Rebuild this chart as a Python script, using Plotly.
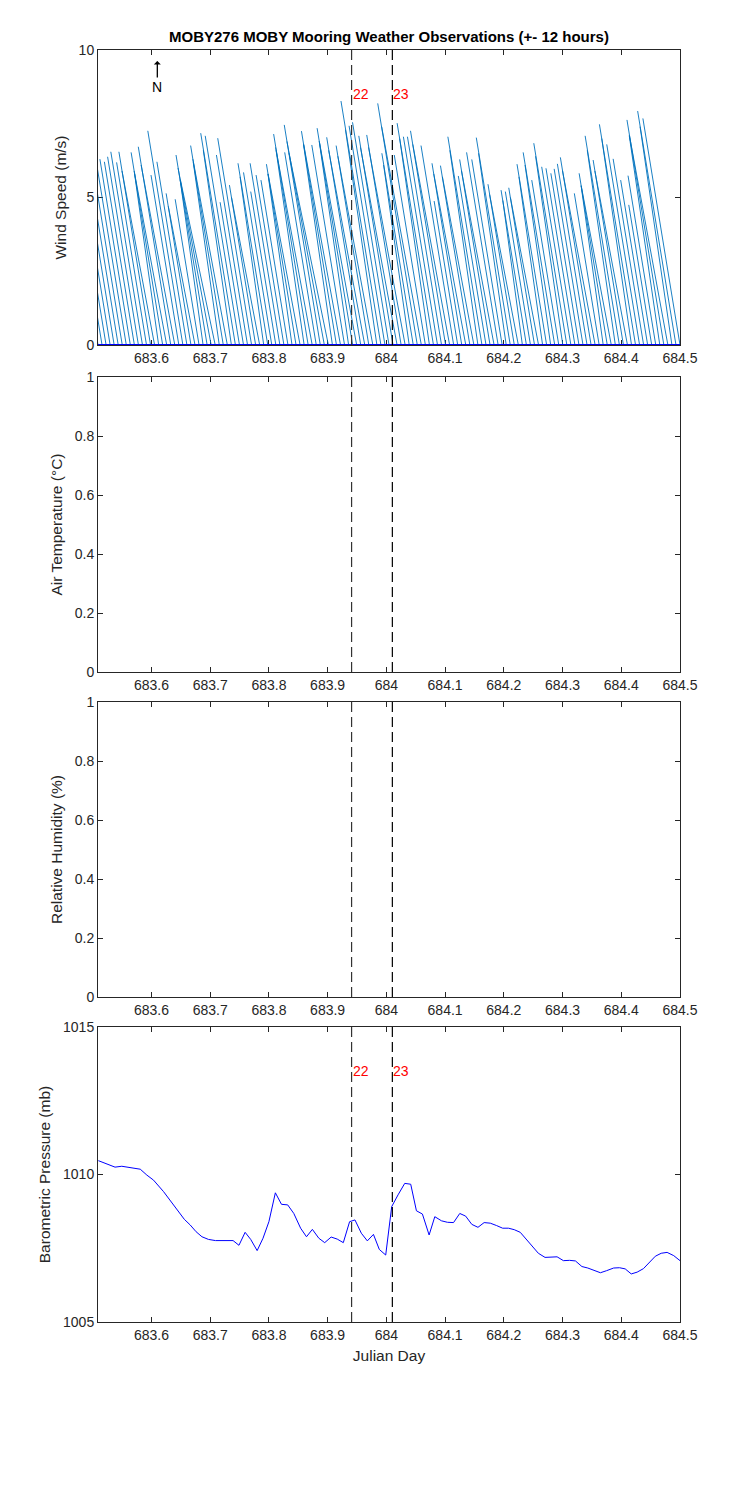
import numpy as np
import plotly.graph_objects as go

# ---------------- data ----------------
x_range = [683.509, 684.5]
x_tickvals = [683.6, 683.7, 683.8, 683.9, 684.0, 684.1, 684.2, 684.3, 684.4, 684.5]
x_ticktext = ["683.6", "683.7", "683.8", "683.9", "684", "684.1", "684.2", "684.3", "684.4", "684.5"]

# wind sticks: one every ~10 minutes, north component (stick height, m/s)
wind_t_first, wind_t_last = 683.509, 684.5
wind_v = [
    6.2, 6.0, 6.3, 6.1, 5.9, 6.4, 6.2, 6.0, 6.3, 6.21,
    6.38, 6.55, 6.19, 6.55, 5.9, 5.8, 6.53, 5.9, 6.72, 6.1,
    5.76, 7.26, 6.21, 5.14, 4.7, 4.94, 5.6, 6.44, 6.0, 5.6,
    6.2, 6.76, 6.3, 6.6, 7.18, 7.09, 4.84, 6.44, 7.01, 5.42,
    5.0, 5.7, 6.16, 5.85, 5.20, 6.16, 5.76, 5.59, 5.8, 6.13,
    5.8, 6.6, 7.15, 6.7, 6.53, 7.46, 6.9, 6.5, 6.8, 7.25,
    6.8, 6.78, 6.9, 7.35, 6.9, 7.04, 6.6, 6.76, 6.4, 7.3,
    8.27, 7.43, 7.55, 7.09, 6.7, 7.12, 6.7, 6.1, 6.50, 8.19,
    7.4, 6.44, 7.0, 7.52, 7.06, 7.06, 7.26, 6.8, 6.76, 4.88,
    6.16, 5.8, 6.08, 5.7, 6.6, 7.06, 5.73, 6.29, 5.9, 6.53,
    6.29, 6.5, 7.03, 5.45, 5.1, 4.9, 5.25, 5.20, 5.33, 5.0,
    5.7, 6.13, 6.1, 6.53, 5.59, 6.4, 6.84, 6.04, 5.99, 5.82,
    5.97, 6.14, 6.36, 5.9, 5.14, 5.4, 5.82, 5.4, 6.6, 7.09,
    6.27, 5.9, 7.0, 7.48, 6.80, 6.31, 5.59, 4.75, 5.74, 7.1,
    7.63, 7.1, 7.4, 7.93, 7.68,
]
# stick direction, degrees from north (negative = toward west), in equal-pixel scaling
wind_dir_deg = [
    -9.3, -9.3, -9.3, -9.3, -9.3, -9.3, -9.3, -9.3, -9.3, -9.3,
    -9.3, -9.3, -9.3, -9.3, -10.6, -8.0, -9.3, -10.6, -9.3, -10.6,
    -9.3, -9.3, -9.3, -9.3, -10.9, -9.3, -7.9, -9.3, -10.6, -11.9,
    -8.1, -9.3, -10.5, -8.2, -9.3, -9.3, -9.3, -9.3, -9.3, -9.3,
    -10.8, -8.0, -9.3, -9.3, -9.3, -9.3, -9.3, -9.3, -8.0, -9.3,
    -10.6, -8.2, -9.3, -10.5, -9.3, -9.3, -10.4, -11.6, -8.2, -9.3,
    -10.4, -9.3, -8.2, -9.3, -10.4, -9.3, -10.5, -9.3, -10.5, -8.3,
    -9.3, -9.3, -9.3, -9.3, -10.5, -9.3, -10.5, -8.1, -9.3, -9.3,
    -10.3, -9.3, -8.2, -9.3, -9.3, -9.3, -9.3, -10.4, -9.3, -9.3,
    -9.3, -10.6, -9.3, -10.6, -8.2, -9.3, -9.3, -9.3, -10.6, -9.3,
    -9.3, -8.2, -9.3, -9.3, -10.8, -7.7, -9.3, -9.3, -9.3, -10.8,
    -8.0, -9.3, -8.1, -9.3, -9.3, -8.2, -9.3, -9.3, -9.3, -9.3,
    -9.3, -9.3, -9.3, -10.6, -9.3, -7.9, -9.3, -10.7, -8.2, -9.3,
    -9.3, -10.6, -8.2, -9.3, -9.3, -9.3, -9.3, -9.3, -9.3, -8.3,
    -9.3, -10.4, -8.3, -9.3, -9.3,
]

pressure_t = [
    683.5096, 683.538, 683.5495, 683.565, 683.581, 683.5922, 683.6035, 683.6206, 683.635, 683.644,
    683.656, 683.666, 683.676, 683.686, 683.697, 683.709, 683.729, 683.739, 683.749, 683.7595,
    683.769, 683.780, 683.790, 683.800, 683.811, 683.8214, 683.832, 683.8424, 683.854, 683.864,
    683.874, 683.885, 683.895, 683.906, 683.9164, 683.9267, 683.9374, 683.9465, 683.9574, 683.9676,
    683.978, 683.988, 683.9989, 684.0091, 684.0199, 684.0313, 684.0415, 684.0512, 684.0614, 684.0728,
    684.0825, 684.0939, 684.104, 684.1144, 684.125, 684.135, 684.1455, 684.156, 684.1665, 684.177,
    684.1876, 684.198, 684.208, 684.2178, 684.228, 684.2378, 684.2492, 684.2588, 684.2702, 684.281,
    684.2907, 684.3015, 684.312, 684.322, 684.333, 684.343, 684.353, 684.3645, 684.375, 684.387,
    684.397, 684.4067, 684.417, 684.427, 684.4378, 684.448, 684.458, 684.468, 684.478, 684.4893,
    684.500,
]
pressure_mb = [
    1010.47, 1010.25, 1010.28, 1010.22, 1010.18, 1009.98, 1009.81, 1009.42, 1009.02, 1008.80,
    1008.48, 1008.29, 1008.06, 1007.89, 1007.80, 1007.76, 1007.77, 1007.76, 1007.60, 1008.04,
    1007.80, 1007.42, 1007.84, 1008.40, 1009.38, 1008.99, 1008.97, 1008.68, 1008.18, 1007.89,
    1008.14, 1007.84, 1007.69, 1007.88, 1007.81, 1007.69, 1008.40, 1008.46, 1008.01, 1007.75,
    1007.97, 1007.46, 1007.27, 1008.91, 1009.31, 1009.70, 1009.67, 1008.77, 1008.66, 1007.95,
    1008.57, 1008.43, 1008.38, 1008.37, 1008.68, 1008.59, 1008.31, 1008.21, 1008.37, 1008.35,
    1008.27, 1008.18, 1008.18, 1008.13, 1008.04, 1007.81, 1007.53, 1007.33, 1007.19, 1007.20,
    1007.21, 1007.08, 1007.09, 1007.07, 1006.88, 1006.83, 1006.75, 1006.67, 1006.74, 1006.83,
    1006.84, 1006.80, 1006.63, 1006.69, 1006.81, 1007.02, 1007.23, 1007.33, 1007.36, 1007.25,
    1007.08,
]

event_t = [683.9408, 684.0102]
event_labels = ["22", "23"]

y_titles = ["Wind Speed (m/s)", "Air Temperature (°C)", "Relative Humidity (%)", "Barometric Pressure (mb)"]
y_ranges = [[0, 10], [0, 1], [0, 1], [1005, 1015]]
y_dticks = [5, 0.2, 0.2, 5]

title_text = "MOBY276 MOBY Mooring Weather Observations (+- 12 hours)"

# ---------------- figure ----------------
W, H = 750, 1500
ML, MR, MT, MB = 98, 70, 50, 178
domains = [[0.7681, 1.0], [0.5110, 0.7429], [0.2555, 0.4874], [0.0, 0.2319]]

fig = go.Figure()

# wind sticks (equal pixel scaling for east/north components)
wind_t = np.linspace(wind_t_first, wind_t_last, len(wind_v))
plot_w_px = W - ML - MR
plot_h_px = (H - MT - MB) * (domains[0][1] - domains[0][0])
days_per_px = (x_range[1] - x_range[0]) / plot_w_px
px_per_ms = plot_h_px / (y_ranges[0][1] - y_ranges[0][0])
stick_scale = px_per_ms * days_per_px
wv = np.array(wind_v)
wu = wv * np.tan(np.radians(np.array(wind_dir_deg)))
sx, sy = [], []
for t, u, v in zip(wind_t, wu, wv):
    sx += [t, t + u * stick_scale, None]
    sy += [0, v, None]
fig.add_trace(go.Scatter(x=sx, y=sy, mode="lines", line=dict(color="#0072BD", width=0.9),
                         xaxis="x", yaxis="y", showlegend=False, hoverinfo="skip"))
fig.add_trace(go.Scatter(x=[wind_t_first, wind_t_last], y=[0, 0], mode="lines",
                         line=dict(color="#0000FF", width=2), xaxis="x", yaxis="y",
                         showlegend=False, hoverinfo="skip"))

# pressure
fig.add_trace(go.Scatter(x=pressure_t, y=pressure_mb, mode="lines",
                         line=dict(color="#0000FF", width=1), xaxis="x4", yaxis="y4",
                         showlegend=False))

axcol = "#262626"
font_family = "Liberation Sans, Arial, sans-serif"
layout = dict(
    width=W, height=H,
    margin=dict(l=ML, r=MR, t=MT, b=MB),
    paper_bgcolor="white", plot_bgcolor="white",
    font=dict(family=font_family, size=14, color=axcol),
    showlegend=False,
)
for i in range(4):
    n = "" if i == 0 else str(i + 1)
    layout["xaxis" + n] = dict(
        domain=[0, 1], anchor="y" + n, range=x_range,
        tickvals=x_tickvals, ticktext=x_ticktext,
        showline=True, linecolor=axcol, linewidth=1, mirror="ticks",
        ticks="inside", ticklen=5, tickcolor=axcol, showgrid=False, zeroline=False,
        tickfont=dict(size=14, color=axcol), layer="below traces",
    )
    layout["yaxis" + n] = dict(
        domain=domains[i], anchor="x" + n, range=y_ranges[i], dtick=y_dticks[i],
        tick0=y_ranges[i][0],
        showline=True, linecolor=axcol, linewidth=1, mirror="ticks",
        ticks="inside", ticklen=5, tickcolor=axcol, showgrid=False, zeroline=False,
        tickfont=dict(size=14, color=axcol), layer="below traces",
        title=dict(text=y_titles[i], font=dict(size=15.5, color=axcol), standoff=8),
    )
layout["xaxis4"]["title"] = dict(text="Julian Day", font=dict(size=15.5, color=axcol), standoff=8)

shapes = []
annotations = []
for i in range(4):
    n = "" if i == 0 else str(i + 1)
    for k, (t, lab) in enumerate(zip(event_t, event_labels)):
        shapes.append(dict(type="line", xref="x" + n, yref="y" + n + " domain",
                           x0=t, x1=t, y0=0, y1=1,
                           line=dict(color="#333333" if k == 0 else "black", width=1.2,
                                     dash="10px,5px")))
        if i in (0, 3):
            annotations.append(dict(x=t, y=0.85, xref="x" + n, yref="y" + n + " domain",
                                    text=lab, showarrow=False, xanchor="left", yanchor="middle",
                                    xshift=-1, font=dict(size=14, color="#FF0000")))

# north arrow
annotations.append(dict(x=683.61, y=9.627, xref="x", yref="y", text="N", showarrow=True,
                        ax=0, ay=26, arrowhead=1, arrowsize=0.9, arrowwidth=1.3,
                        arrowcolor="black", font=dict(size=14, color="black"), standoff=0))
# title
annotations.append(dict(x=0.5, y=1, xref="paper", yref="paper", text="<b>" + title_text + "</b>",
                        showarrow=False, xanchor="center", yanchor="bottom", yshift=3,
                        font=dict(size=15, color="black")))
layout["shapes"] = shapes
layout["annotations"] = annotations

fig.update_layout(**layout)
fig.write_html("out.html", config={"displayModeBar": False},
               post_script="document.body.style.margin='0px';")
